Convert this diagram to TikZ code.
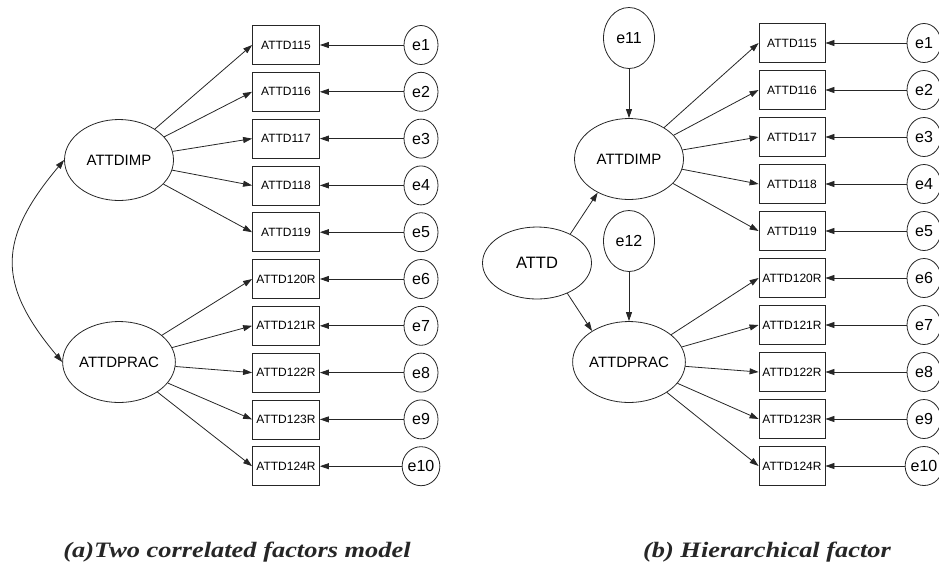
\documentclass[tikz,border=0pt]{standalone}
\usepackage{fontspec}
\setmainfont{Liberation Serif}
\newfontfamily\diagfont{Liberation Sans}
\usetikzlibrary{arrows.meta,shapes.geometric}

\tikzset{
  lw/.style={line width=0.8pt, draw=black!85},
  obs/.style={lw, rectangle, minimum width=67pt, minimum height=39pt, inner sep=0pt, font=\diagfont\fontsize{12}{12}\selectfont},
  lat/.style={lw, ellipse, minimum width=109pt, minimum height=81pt, inner sep=0pt, font=\diagfont\fontsize{15}{15}\selectfont},
  err/.style={lw, ellipse, minimum width=34pt, minimum height=39pt, inner sep=0pt, font=\diagfont\fontsize{16}{16}\selectfont},
  dist/.style={lw, ellipse, minimum width=51pt, minimum height=61pt, inner sep=0pt, font=\diagfont\fontsize{16}{16}\selectfont},
  arr/.style={lw, -{Triangle[length=9pt,width=6pt]}},
  darr/.style={lw, {Triangle[length=9pt,width=6pt]}-{Triangle[length=9pt,width=6pt]}},
  captext/.style={font=\bfseries\itshape\fontsize{22}{22}\selectfont, anchor=base, inner sep=0pt,
                  xscale=1.2, transform shape, text=black!85}
}

\begin{document}
\begin{tikzpicture}[x=1pt, y=-1pt]
\useasboundingbox (0,0) rectangle (939,566);

% ---------- (a) two correlated factors ----------
\node[lat] (impA)  at (119,160) {ATTDIMP};
\node[lat] (pracA) at (119,362) {ATTDPRAC};
\foreach \i/\lab in {0/ATTD115,1/ATTD116,2/ATTD117,3/ATTD118,4/ATTD119,
                     5/ATTD120R,6/ATTD121R,7/ATTD122R,8/ATTD123R,9/ATTD124R}{
  \pgfmathsetmacro{\yy}{45+46.8*\i}
  \pgfmathtruncatemacro{\k}{\i+1}
  \node[obs] (a\k) at (286,\yy) {\lab};
  \node[err] (ae\k) at (421,\yy) {e\k};
  \draw[arr] (ae\k) -- (a\k);
}
\foreach \k in {1,...,5}{ \draw[arr] (impA) -- (a\k.west); }
\foreach \k in {6,...,10}{ \draw[arr] (pracA) -- (a\k.west); }
\draw[darr] (impA.west) to[out=230,in=130,looseness=1.3] (pracA.west);

% ---------- (b) hierarchical factor ----------
\node[lat] (impB)  at (629,159) {ATTDIMP};
\node[lat] (pracB) at (629,362) {ATTDPRAC};
\node[lat, minimum height=72pt, font=\diagfont\fontsize{16.5}{16.5}\selectfont] (attd) at (537,263) {ATTD};
\node[dist] (e11) at (629,38)  {e11};
\node[dist] (e12) at (629,241) {e12};
\foreach \i/\lab in {0/ATTD115,1/ATTD116,2/ATTD117,3/ATTD118,4/ATTD119,
                     5/ATTD120R,6/ATTD121R,7/ATTD122R,8/ATTD123R,9/ATTD124R}{
  \pgfmathsetmacro{\yy}{43+47*\i}
  \pgfmathtruncatemacro{\k}{\i+1}
  \node[obs, minimum width=66pt] (b\k) at (792,\yy) {\lab};
  \node[err] (be\k) at (924,\yy) {e\k};
  \draw[arr] (be\k) -- (b\k);
}
\foreach \k in {1,...,5}{ \draw[arr] (impB) -- (b\k.west); }
\foreach \k in {6,...,10}{ \draw[arr] (pracB) -- (b\k.west); }
\draw[arr] (e11) -- (impB);
\draw[arr] (e12) -- (pracB);
\draw[arr] (attd.41) -- (impB.227);
\draw[arr] (attd.-45) -- (pracB.140);

% ---------- captions ----------
\node[captext] (capA) at (237,557) {(a)Two correlated factors model};
\node[captext] (capB) at (767,557) {(b) Hierarchical factor};
\end{tikzpicture}
\end{document}
